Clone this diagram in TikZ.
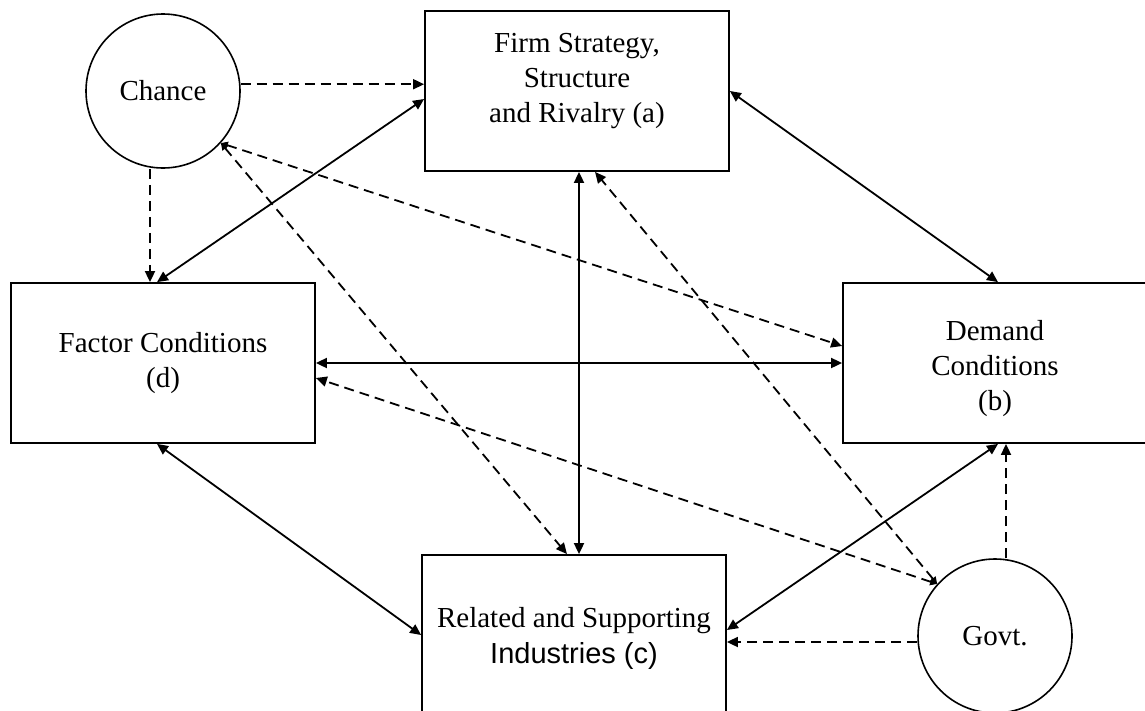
\documentclass[tikz,border=0pt]{standalone}
\usepackage{fontspec}
\setmainfont{Liberation Serif}
\newfontfamily\arialfont{Liberation Sans}
\usepackage{tikz}
\usetikzlibrary{positioning, arrows.meta, calc}

\begin{document}
\begin{tikzpicture}[
  x=1pt, y=-1pt,
  every node/.style={font=\fontsize{29}{35}\selectfont},
  box/.style={draw, line width=1.8pt, minimum width=304pt, minimum height=160pt, inner sep=0pt, align=center},
  circ/.style={draw, circle, line width=1.6pt, minimum size=154pt, inner sep=0pt},
  txt/.style={align=center, inner sep=0pt},
  arr/.style={{Triangle[length=11pt, width=10pt]}-{Triangle[length=11pt, width=10pt]}, line width=1.8pt},
  darr/.style={-{Triangle[length=11pt, width=10pt]}, line width=1.8pt, dash pattern=on 10pt off 6pt},
  ddarr/.style={{Triangle[length=7pt, width=7pt]}-{Triangle[length=11pt, width=10pt]}, line width=1.8pt, dash pattern=on 10pt off 6pt},
]
  \useasboundingbox (0,0) rectangle (1145,710);
  \clip (0,0) rectangle (1145,710);

  % Four determinants
  \node[box] (firm) at (577,91) {};
  \node[txt] (firmlbl) at ([yshift=10pt]firm.center) {Firm Strategy,\\Structure\\and Rivalry (a)};
  \node[box] (factor) at (163,363) {Factor Conditions\\(d)};
  \node[box] (demand) at (995,363) {};
  \node[txt] (demandlbl) at ([yshift=-6pt]demand.center) {Demand\\Conditions\\(b)};
  \node[box] (related) at (574,635) {};
  \node[txt] (relatedlbl) at ([yshift=-3pt]related.center) {Related and Supporting\\[1pt]{\arialfont Industries (c)}};

  % Outside forces
  \node[circ] (chance) at (163,91) {Chance};
  \node[circ] (govt) at (995,636) {Govt.};

  % Diamond links
  \draw[arr] ([xshift=-6pt]factor.north) -- ([yshift=-8pt]firm.west);
  \draw[arr] (firm.east) -- ([xshift=3pt]demand.north);
  \draw[arr] ([xshift=2pt]firm.south) -- ([xshift=2pt]firm.south |- related.north);
  \draw[arr] (factor.east) -- (demand.west);
  \draw[arr] ([xshift=-6pt]factor.south) -- (related.west);
  \draw[arr] ([yshift=5pt]related.east) -- ([xshift=3pt]demand.south);

  % Chance
  \draw[darr] (chance.5) -- (chance.5 -| firm.west);
  \draw[darr] ([xshift=-13pt]chance.south) -- ([xshift=-13pt]chance.south |- factor.north);
  \draw[ddarr] (chance.-42) -- ([yshift=17pt]demand.west);
  \draw[ddarr] (chance.-42) -- ([xshift=-7pt]related.north);

  % Government
  \draw[darr] ([xshift=11pt]govt.north) -- ([xshift=11pt]govt.north |- demand.south);
  \draw[darr] ([yshift=-6pt]govt.west) -- ([yshift=-6pt]govt.west -| related.east);
  \draw[ddarr] (govt.138) -- ([yshift=-15pt]factor.east);
  \draw[ddarr] (govt.138) -- ([xshift=18pt]firm.south);
\end{tikzpicture}
\end{document}
